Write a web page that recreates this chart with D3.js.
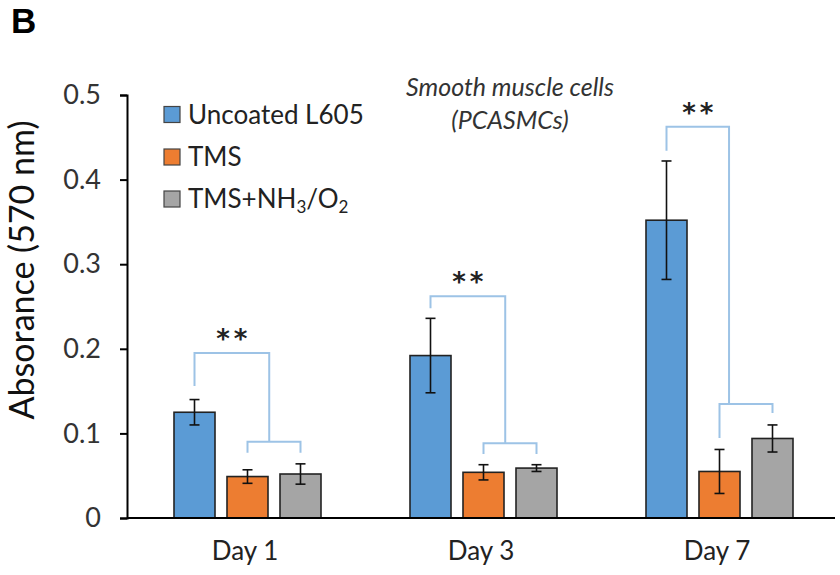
<!DOCTYPE html>
<html>
<head>
<meta charset="utf-8">
<script src="https://cdn.jsdelivr.net/npm/d3@7"></script>
<style>
  html, body { margin: 0; padding: 0; background: #fff; }
  svg { display: block; }
  text { font-family: Lato, "Open Sans", sans-serif; }
</style>
</head>
<body>
<svg id="chart" width="840" height="575"></svg>
<script>
// ---- data ----
const categories = ["Day 1", "Day 3", "Day 7"];
const seriesNames = ["Uncoated L605", "TMS", "TMS+NH3/O2"];
const uncoated = [0.125, 0.192, 0.352];
const tms = [0.049, 0.054, 0.055];
const tmsNh3 = [0.052, 0.059, 0.094];
const uncoatedErr = [0.015, 0.044, 0.070];
const tmsErr = [0.008, 0.009, 0.026];
const tmsNh3Err = [0.012, 0.004, 0.016];
const yTicks = [0, 0.1, 0.2, 0.3, 0.4, 0.5];
const yTickLabels = ["0", "0.1", "0.2", "0.3", "0.4", "0.5"];
// significance brackets (values in absorbance units)
const sigLabels = ["**", "**", "**"];
const bracketTop = [0.195, 0.262, 0.4625];
const bracketLeftEnd = [0.156, 0.248, 0.434];
const lowerBracket = [0.090, 0.0885, 0.1348];
const lowerLeftEnd = [0.077, 0.0757, 0.0946];
const lowerRightEnd = [0.077, 0.0757, 0.124];
const joinFraction = [0.41, 0.41, 0.18];

const values = [uncoated, tms, tmsNh3];
const errors = [uncoatedErr, tmsErr, tmsNh3Err];
const colors = ["#5B9BD5", "#ED7D31", "#A5A5A5"];

const svg = d3.select("#chart");
const axisLeftX = 127, axisRightX = 835, yBottom = 518, yTop = 95;

const y = d3.scaleLinear().domain([0, 0.5]).range([yBottom, yTop]);
const x = d3.scaleBand().domain(categories).range([129.5, 837.5]).padding(0);
const xi = d3.scaleBand().domain(seriesNames).range([-79.5, 79.5])
  .paddingInner(12 / 53).paddingOuter(6 / 53);
const cx = (ci, si) => x(categories[ci]) + x.bandwidth() / 2 + xi(seriesNames[si]) + xi.bandwidth() / 2;

// Panel letter
svg.append("text").attr("x", 11).attr("y", 33)
  .style("font-family", "'Liberation Sans', Arial, sans-serif")
  .style("font-weight", "bold").style("font-size", "35px").attr("fill", "#000").text("B");

// Y axis
const yAxis = d3.axisLeft(y).tickValues(yTicks)
  .tickFormat((d, i) => yTickLabels[i]).tickSize(7).tickSizeOuter(7).tickPadding(19);
const gy = svg.append("g").attr("transform", `translate(${axisLeftX},0)`).call(yAxis);
gy.select(".domain").attr("stroke", "#000").attr("stroke-width", 2);
gy.selectAll(".tick line").attr("stroke", "#000").attr("stroke-width", 2);
gy.selectAll(".tick text").style("font-size", "27px").attr("fill", "#333")
  .style("font-family", "Lato, sans-serif");

// Y title
svg.append("text")
  .attr("transform", `translate(34,270) rotate(-90)`)
  .attr("text-anchor", "middle").style("font-size", "34px").attr("fill", "#111")
  .text("Absorance (570 nm)");

// Bars
for (let s = 0; s < 3; s++) {
  svg.append("g").selectAll("rect").data(values[s]).join("rect")
    .attr("x", (d, i) => cx(i, s) - xi.bandwidth() / 2)
    .attr("width", xi.bandwidth())
    .attr("y", d => y(d))
    .attr("height", d => y(0) - y(d))
    .attr("fill", colors[s]).attr("stroke", "#222").attr("stroke-width", 1.6);
}

// Error bars
for (let s = 0; s < 3; s++) {
  const g = svg.append("g").attr("stroke", "#111").attr("stroke-width", 1.6);
  values[s].forEach((v, i) => {
    const e = errors[s][i], c = cx(i, s);
    g.append("line").attr("x1", c).attr("x2", c).attr("y1", y(v + e)).attr("y2", y(v - e));
    g.append("line").attr("x1", c - 5).attr("x2", c + 5).attr("y1", y(v + e)).attr("y2", y(v + e));
    g.append("line").attr("x1", c - 5).attr("x2", c + 5).attr("y1", y(v - e)).attr("y2", y(v - e));
  });
}

// X axis line
svg.append("line").attr("x1", axisLeftX).attr("x2", axisRightX)
  .attr("y1", y(0)).attr("y2", y(0)).attr("stroke", "#000").attr("stroke-width", 2);

// X labels
const xAxis = d3.axisBottom(x).tickSize(0).tickPadding(24);
const gx = svg.append("g").attr("transform", `translate(-2.5,${y(0)})`).call(xAxis);
gx.select(".domain").remove();
gx.selectAll(".tick text").style("font-size", "26px").attr("fill", "#222")
  .style("font-family", "Lato, sans-serif");

// Significance brackets
const bColor = "#9DC3E6";
const bg = svg.append("g").attr("fill", "none").attr("stroke", bColor).attr("stroke-width", 2);
categories.forEach((c, i) => {
  const xl = cx(i, 0);
  const xo = cx(i, 1), xg = cx(i, 2);
  const xj = xo + (xg - xo) * joinFraction[i];
  bg.append("path").attr("d",
    `M${xl},${y(bracketLeftEnd[i])}V${y(bracketTop[i])}H${xj}V${y(lowerBracket[i])}`);
  bg.append("path").attr("d",
    `M${xo},${y(lowerLeftEnd[i])}V${y(lowerBracket[i])}H${xg}V${y(lowerRightEnd[i])}`);
  svg.append("text").attr("x", (xl + xj) / 2 + 2).attr("y", y(bracketTop[i]) - 5)
    .attr("text-anchor", "middle")
    .style("font-family", "'DejaVu Sans', sans-serif").style("font-weight", "bold")
    .style("font-size", "26px")
    .style("letter-spacing", "4px").attr("fill", "#222").text(sigLabels[i]);
});

// Chart title
const tt = svg.append("text").attr("text-anchor", "middle").attr("fill", "#333")
  .style("font-style", "italic").style("font-size", "25px");
tt.append("tspan").attr("x", 510).attr("y", 96).text("Smooth muscle cells");
tt.append("tspan").attr("x", 510).attr("y", 129).text("(PCASMCs)");

// Legend
const legendY = [114.5, 157, 199];
const lg = svg.append("g");
seriesNames.forEach((name, i) => {
  lg.append("rect").attr("x", 164).attr("y", legendY[i] - 8).attr("width", 16).attr("height", 16)
    .attr("fill", colors[i]).attr("stroke", "#444").attr("stroke-width", 1.2);
  const t = lg.append("text").attr("x", 188).attr("y", legendY[i] + 9)
    .style("font-size", "26px").attr("fill", "#222");
  if (name === "TMS+NH3/O2") {
    t.append("tspan").text("TMS+NH");
    t.append("tspan").attr("dy", 5).style("font-size", "17px").text("3");
    t.append("tspan").attr("dy", -5).text("/O");
    t.append("tspan").attr("dy", 5).style("font-size", "17px").text("2");
  } else {
    t.text(name);
  }
});
</script>
</body>
</html>
